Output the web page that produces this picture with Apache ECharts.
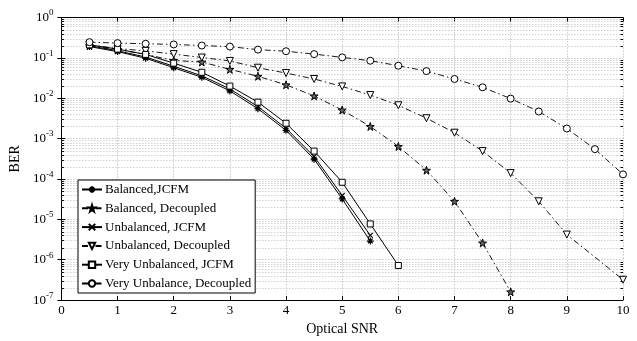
<!DOCTYPE html>
<html>
<head>
<meta charset="utf-8">
<script src="https://cdn.jsdelivr.net/npm/echarts@6/dist/echarts.min.js"></script>
<style>
  html, body { margin: 0; padding: 0; background: #fff; }
  #chart { width: 637px; height: 341px; }
</style>
</head>
<body>
<div id="chart"></div>
<script>
// Optical SNR sample points
const snrJcfm = [0.5, 1, 1.5, 2, 2.5, 3, 3.5, 4, 4.5, 5, 5.5];
const snrVeryJcfm = [0.5, 1, 1.5, 2, 2.5, 3, 3.5, 4, 4.5, 5, 5.5, 6];
const snrBalDec = [0.5, 1, 1.5, 2, 2.5, 3, 3.5, 4, 4.5, 5, 5.5, 6, 6.5, 7, 7.5, 8];
const snrUnbDec = [0.5, 1, 1.5, 2, 2.5, 3, 3.5, 4, 4.5, 5, 5.5, 6, 6.5, 7, 7.5, 8, 8.5, 9, 10];
const snrVeryDec = [0.5, 1, 1.5, 2, 2.5, 3, 3.5, 4, 4.5, 5, 5.5, 6, 6.5, 7, 7.5, 8, 8.5, 9, 9.5, 10];

// BER values
const berBalJcfm = [0.19, 0.143, 0.098, 0.057, 0.033, 0.0152, 0.0055, 0.0016, 3.1e-4, 3.2e-5, 2.9e-6];
const berUnbJcfm = [0.2, 0.15, 0.105, 0.062, 0.036, 0.017, 0.0062, 0.0018, 3.6e-4, 3.9e-5, 4.0e-6];
const berVeryJcfm = [0.21, 0.165, 0.122, 0.074, 0.044, 0.020, 0.008, 0.0024, 4.9e-4, 8.3e-5, 7.7e-6, 7.2e-7];
const berBalDec = [0.2, 0.16, 0.122, 0.086, 0.079, 0.052, 0.035, 0.0215, 0.0114, 0.0051, 0.0020, 6.4e-4, 1.65e-4, 2.8e-5, 2.6e-6, 1.6e-7];
const berUnbDec = [0.21, 0.17, 0.149, 0.124, 0.102, 0.084, 0.057, 0.042, 0.030, 0.0196, 0.012, 0.0067, 0.0032, 0.0014, 4.9e-4, 1.4e-4, 2.8e-5, 4.2e-6, 3.2e-7];
const berVeryDec = [0.245, 0.232, 0.224, 0.215, 0.202, 0.19, 0.16, 0.146, 0.124, 0.103, 0.085, 0.064, 0.047, 0.030, 0.0187, 0.0098, 0.0047, 0.00178, 5.5e-4, 1.3e-4];

const seriesNames = [
  'Balanced,JCFM',
  'Balanced, Decoupled',
  'Unbalanced, JCFM',
  'Unbalanced, Decoupled',
  'Very Unbalanced, JCFM',
  'Very Unbalance, Decoupled'
];

// minor log grid positions (2..9 in each decade)
const decades = [-7, -6, -5, -4, -3, -2, -1];
const minorSteps = [2, 3, 4, 5, 6, 7, 8, 9];

const FONT = 'Liberation Serif';
const dashDot = [6, 3, 1.5, 3];

const asterisk = 'path://M5,0L5,10M0,5L10,5M1.6,1.6L8.4,8.4M8.4,1.6L1.6,8.4';
const cross = 'path://M0,0L10,10M10,0L0,10';
const star = 'path://M50,0L61,35L98,35L68,57L79,91L50,70L21,91L32,57L2,35L39,35Z';

const zip = (xs, ys) => xs.map((x, i) => [x, ys[i]]);

const minorData = [];
decades.forEach(d => minorSteps.forEach(k => minorData.push([0, k * Math.pow(10, d)])));

function makeLine(name, xs, ys, symbol, symbolSize, dashed, extra) {
  return Object.assign({
    name: name,
    type: 'line',
    data: zip(xs, ys),
    symbol: symbol,
    symbolSize: symbolSize,
    showAllSymbol: true,
    z: 5,
    lineStyle: { color: '#000', width: dashed ? 0.9 : 1, type: dashed ? dashDot : 'solid' },
    itemStyle: { color: '#fff', borderColor: '#000', borderWidth: 1 },
    emphasis: { disabled: true },
    animation: false
  }, extra || {});
}

const chart = echarts.init(document.getElementById('chart'), null, { renderer: 'canvas' });

chart.setOption({
  animation: false,
  backgroundColor: '#fff',
  grid: { left: 52.5, right: 14, top: 17.5, bottom: 28.5, containLabel: false },
  legend: {
    orient: 'vertical',
    left: 78,
    top: 180,
    data: seriesNames,
    backgroundColor: '#fff',
    borderColor: '#000',
    borderWidth: 1,
    padding: [3, 4, 3, 3],
    itemWidth: 20,
    itemHeight: 8,
    itemGap: 5.8,
    textStyle: { fontFamily: FONT, fontSize: 13, color: '#000', padding: [0, 0, 0, -2] }
  },
  xAxis: [
    {
      type: 'value', min: 0, max: 10, interval: 1,
      name: 'Optical SNR', nameLocation: 'middle', nameGap: 19,
      nameTextStyle: { fontFamily: FONT, fontSize: 14, color: '#000' },
      axisLine: { lineStyle: { color: '#000', width: 1 } },
      axisTick: { inside: true, length: 4, lineStyle: { color: '#000' } },
      axisLabel: { fontFamily: FONT, fontSize: 13, color: '#000', margin: 4 },
      splitLine: { show: true, lineStyle: { color: '#aaa', type: [1, 2], width: 1 } }
    },
    {
      type: 'value', min: 0, max: 10, interval: 1, position: 'top',
      axisLine: { lineStyle: { color: '#000', width: 1 } },
      axisTick: { inside: true, length: 4, lineStyle: { color: '#000' } },
      axisLabel: { show: false },
      splitLine: { show: false }
    }
  ],
  yAxis: [
    {
      type: 'log', logBase: 10, min: 1e-7, max: 1,
      name: 'BER', nameLocation: 'middle', nameGap: 34, nameRotate: 90,
      nameTextStyle: { fontFamily: FONT, fontSize: 14, color: '#000' },
      axisLine: { show: true, lineStyle: { color: '#000', width: 1 } },
      axisTick: { show: true, inside: true, length: 4, lineStyle: { color: '#000' } },
      axisLabel: {
        margin: 8,
        formatter: v => '{b|10}{s|' + Math.round(Math.log10(v)) + '}',
        rich: {
          b: { fontFamily: FONT, fontSize: 13, color: '#000' },
          s: { fontFamily: FONT, fontSize: 9, color: '#000', padding: [0, 0, 9, 0] }
        }
      },
      splitLine: { show: true, lineStyle: { color: '#aaa', type: [1, 2], width: 1 } }
    },
    {
      type: 'log', logBase: 10, min: 1e-7, max: 1, position: 'right',
      axisLine: { show: true, lineStyle: { color: '#000', width: 1 } },
      axisTick: { show: true, inside: true, length: 4, lineStyle: { color: '#000' } },
      axisLabel: { show: false },
      splitLine: { show: false }
    }
  ],
  series: [
    {
      name: 'minorGrid',
      type: 'custom',
      silent: true,
      z: 1,
      data: minorData,
      encode: { x: 0, y: 1 },
      renderItem: (params, api) => {
        const cs = params.coordSys;
        const y = Math.round(api.coord([0, api.value(1)])[1]) + 0.5;
        const x0 = cs.x, x1 = cs.x + cs.width;
        return {
          type: 'group',
          children: [
            { type: 'line', shape: { x1: x0, y1: y, x2: x1, y2: y },
              style: { stroke: '#bbb', lineWidth: 1, lineDash: [1, 2] } },
            { type: 'line', shape: { x1: x0, y1: y, x2: x0 + 2.5, y2: y },
              style: { stroke: '#000', lineWidth: 1 } },
            { type: 'line', shape: { x1: x1 - 2.5, y1: y, x2: x1, y2: y },
              style: { stroke: '#000', lineWidth: 1 } }
          ]
        };
      }
    },
    makeLine(seriesNames[0], snrJcfm, berBalJcfm, asterisk, 7, false, { itemStyle: { color: '#000', borderColor: '#000', borderWidth: 1.2 } }),
    makeLine(seriesNames[1], snrBalDec, berBalDec, star, 8, true, { itemStyle: { color: '#666', borderColor: '#000', borderWidth: 1 } }),
    makeLine(seriesNames[2], snrJcfm, berUnbJcfm, cross, 5, false, { itemStyle: { color: '#000', borderColor: '#000', borderWidth: 1.1 } }),
    makeLine(seriesNames[3], snrUnbDec, berUnbDec, 'triangle', 7, true, { symbolRotate: 180 }),
    makeLine(seriesNames[4], snrVeryJcfm, berVeryJcfm, 'rect', 6, false),
    makeLine(seriesNames[5], snrVeryDec, berVeryDec, 'circle', 7, true)
  ]
});
</script>
</body>
</html>
